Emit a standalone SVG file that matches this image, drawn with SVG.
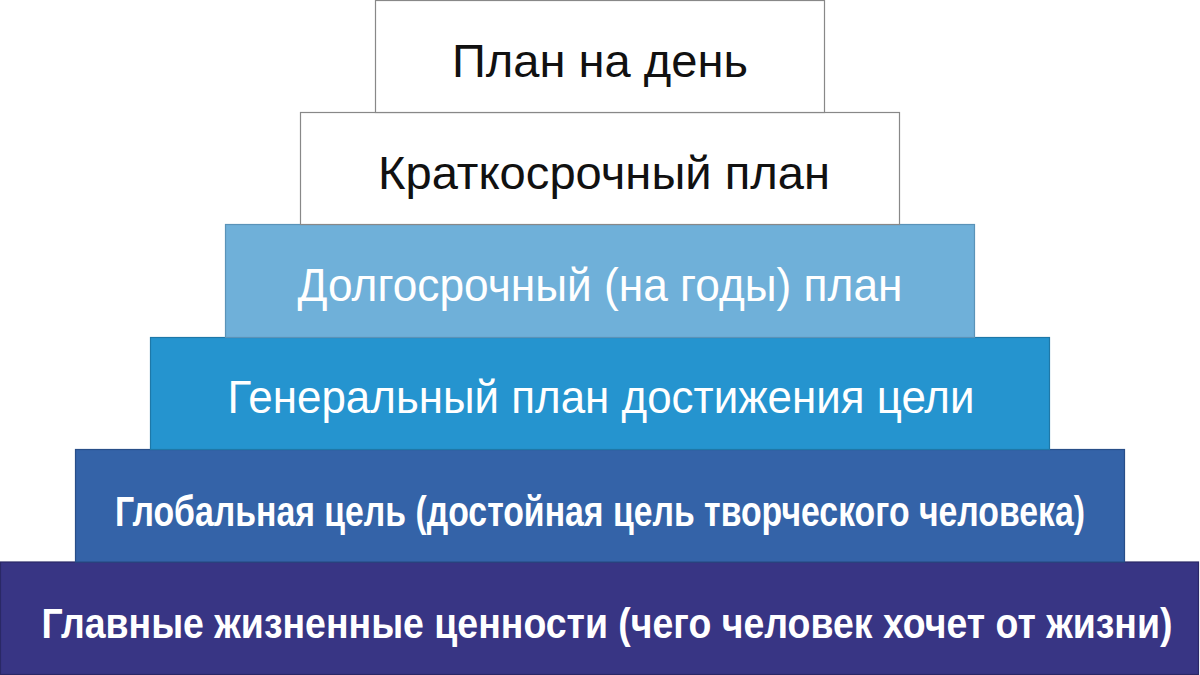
<svg xmlns="http://www.w3.org/2000/svg" width="1200" height="675" viewBox="0 0 1200 675">
<style>
.box{stroke-width:1.2}
.t{font-family:"Liberation Sans",Arial,sans-serif;font-size:46px;text-anchor:middle}
.b{font-family:"Liberation Sans",Arial,sans-serif;font-size:43px;font-weight:bold;text-anchor:middle;fill:#fff}
</style>
<rect width="1200" height="675" fill="#fff"/>
<g id="level6">
<rect class="box" x="0.5" y="562" width="1198" height="112.5" fill="#383584" stroke="#2a2866"/>
<text class="b" transform="translate(607,638) scale(0.86,1)" x="0" y="0" textLength="1315" lengthAdjust="spacingAndGlyphs">Главные жизненные ценности (чего человек хочет от жизни)</text>
</g>
<g id="level5">
<rect class="box" x="75.5" y="449.5" width="1049" height="112.5" fill="#3463a8" stroke="#284e88"/>
<text class="b" transform="translate(600,526) scale(0.86,1)" x="0" y="0" textLength="1128" lengthAdjust="spacingAndGlyphs">Глобальная цель (достойная цель творческого человека)</text>
</g>
<g id="level4">
<rect class="box" x="150.5" y="337.5" width="899" height="112" fill="#2594cf" stroke="#1e78a8"/>
<text class="t" x="601" y="413" fill="#fff" textLength="747" lengthAdjust="spacingAndGlyphs">Генеральный план достижения цели</text>
</g>
<g id="level3">
<rect class="box" x="225.5" y="224.5" width="749" height="113" fill="#6fb0d9" stroke="#5a93b8"/>
<text class="t" x="600" y="301" fill="#fff" textLength="605" lengthAdjust="spacingAndGlyphs">Долгосрочный (на годы) план</text>
</g>
<g id="level2">
<rect class="box" x="300.5" y="112.5" width="599" height="112" fill="#fff" stroke="#888"/>
<text class="t" x="604" y="189" fill="#111" textLength="452" lengthAdjust="spacingAndGlyphs">Краткосрочный план</text>
</g>
<g id="level1">
<rect class="box" x="375.5" y="0.5" width="449" height="112" fill="#fff" stroke="#888"/>
<text class="t" x="600" y="77" fill="#111" textLength="296" lengthAdjust="spacingAndGlyphs">План на день</text>
</g>
<g id="connectors"/>
</svg>
